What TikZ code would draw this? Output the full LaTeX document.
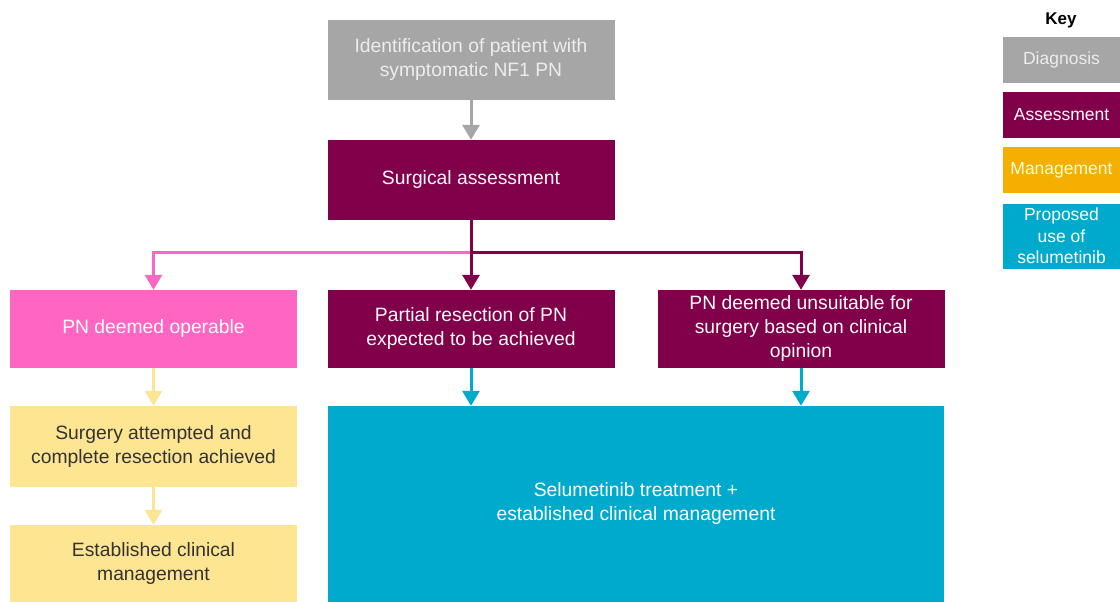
\documentclass[tikz,border=0pt]{standalone}
\usepackage{fontspec}
\setmainfont{Liberation Sans}
\usepackage{xcolor}
\usetikzlibrary{arrows.meta, positioning}

\definecolor{diaggray}{HTML}{A6A6A6}
\definecolor{assesspurple}{HTML}{80004A}
\definecolor{operpink}{HTML}{FF66C4}
\definecolor{mgmtyellow}{HTML}{FEE592}
\definecolor{keyorange}{HTML}{F4AF00}
\definecolor{selteal}{HTML}{00AACC}

\begin{document}
\begin{tikzpicture}[x=1pt, y=-1pt,
    box/.style={inner sep=2pt, minimum width=287pt, minimum height=80pt, align=center, font=\fontsize{19.3}{24}\selectfont},
    keybox/.style={inner sep=1pt, minimum width=117pt, minimum height=46pt, align=center, font=\fontsize{17.5}{21.5}\selectfont},
    diag/.style={fill=diaggray, text=white!93!black},
    assess/.style={fill=assesspurple, text=white!92!pink},
    oper/.style={fill=operpink, text=white},
    mgmt/.style={fill=mgmtyellow, text=black!80},
    sel/.style={fill=selteal, text=white},
    arrow/.style={-{Triangle[width=17pt, length=15pt]}, line width=3pt},
]
\useasboundingbox (0,0) rectangle (1120,602);

% main column
\node[box, diag] (ident) at (471,60) {Identification of patient with\\symptomatic NF1 PN};
\node[box, assess] (surg) at (471,180) {Surgical assessment};

% second row
\node[box, oper, minimum height=78pt] (operable) at (153.5,329) {PN deemed operable};
\node[box, assess, minimum height=78pt] (partial) at (471,329) {Partial resection of PN\\expected to be achieved};
\node[box, assess, minimum height=78pt] (unsuit) at (801,329) {PN deemed unsuitable for\\surgery based on clinical\\opinion};

% management path
\node[box, mgmt, minimum height=81pt] (surgery) at (153.5,446.5) {Surgery attempted and\\complete resection achieved};
\node[box, mgmt, minimum height=77pt] (estab) at (153.5,563.5) {Established clinical\\management};

% selumetinib
\node[box, sel, minimum width=616pt, minimum height=196pt] (selu) at (636,504) {Selumetinib treatment +\\established clinical management};

\coordinate (split) at (471,252);

\draw[arrow, draw=diaggray] (ident.south) -- (surg.north);
\draw[arrow, draw=operpink] (split) -| (operable.north);
\draw[arrow, draw=assesspurple] (surg.south) -- (partial.north);
\draw[arrow, draw=assesspurple] (split) -| (unsuit.north);
\draw[arrow, draw=mgmtyellow] (operable.south) -- (surgery.north);
\draw[arrow, draw=mgmtyellow] (surgery.south) -- (estab.north);
\draw[arrow, draw=selteal] (partial.south) -- (partial.south |- selu.north);
\draw[arrow, draw=selteal] (unsuit.south) -- (unsuit.south |- selu.north);

% key
\node[font=\fontsize{17}{20}\selectfont\bfseries] (keytitle) at (1061,20) {Key};
\node[keybox, diag] (kdiag) at (1061.5,60) {Diagnosis};
\node[keybox, assess] (kassess) at (1061.5,115) {Assessment};
\node[keybox, fill=keyorange, text=white!85!yellow] (kmgmt) at (1061.5,170) {Management};
\node[keybox, sel, minimum height=65pt] (ksel) at (1061.5,236) {Proposed\\use of\\selumetinib};

\end{tikzpicture}
\end{document}
